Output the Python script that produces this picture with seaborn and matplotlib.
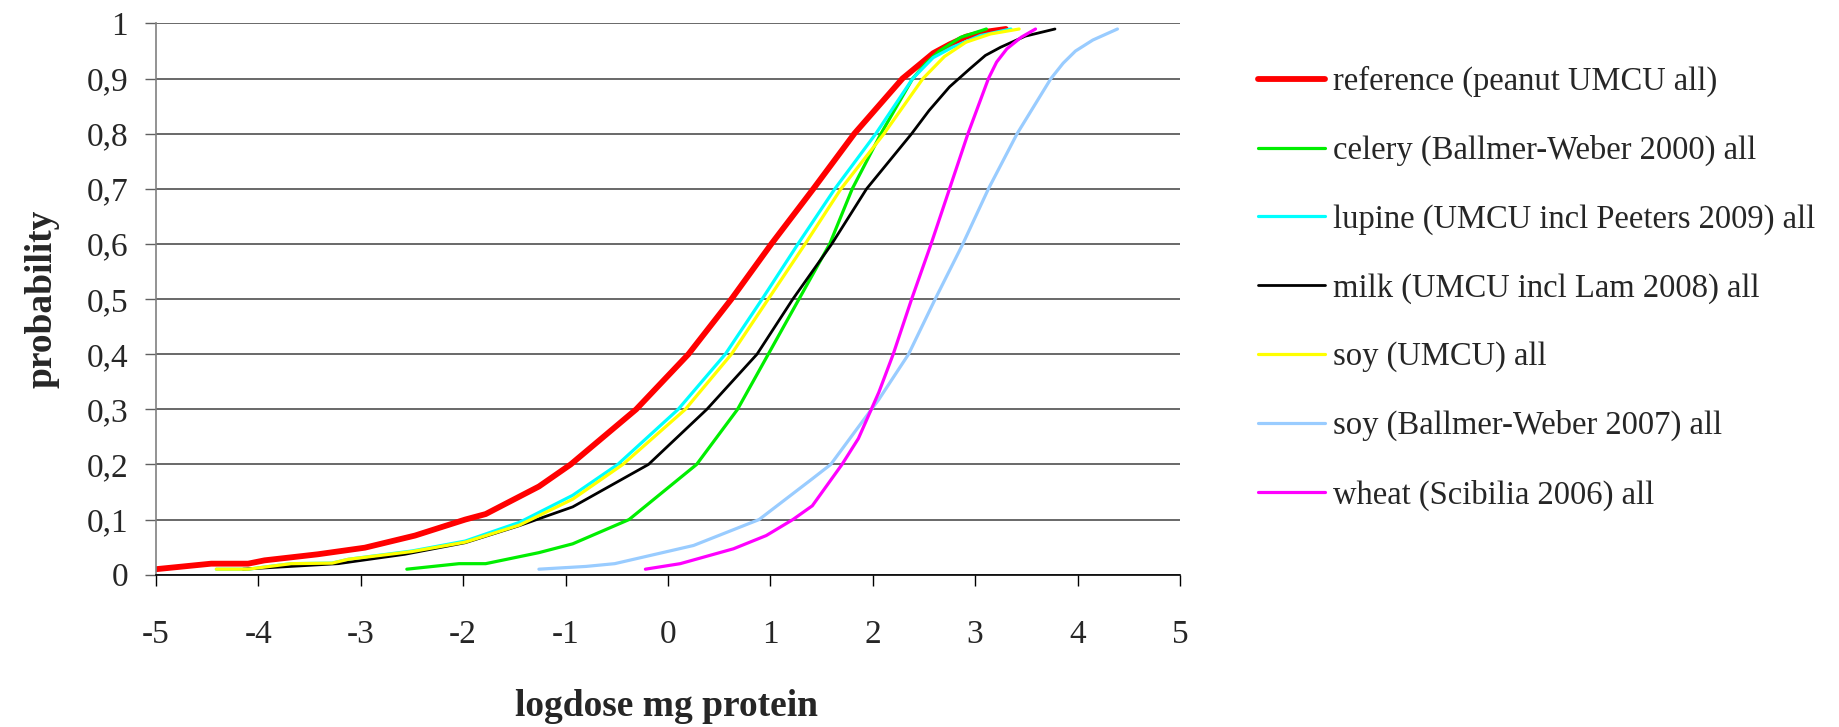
import numpy as np
import pandas as pd
import seaborn as sns
import matplotlib.pyplot as plt
from matplotlib.ticker import FuncFormatter

# Curves: logdose (x) against cumulative probability (y)
ref_x = [-5.0, -4.46, -4.1, -3.94, -3.42, -2.96, -2.47, -1.98, -1.78, -1.26, -0.95,
         -0.31, 0.2, 0.62, 1.01, 1.42, 1.82, 2.29, 2.46, 2.59, 2.75, 2.91, 3.11, 3.3]
ref_y = [0.01, 0.02, 0.02, 0.026, 0.037, 0.049, 0.071, 0.1, 0.11, 0.16, 0.2,
         0.3, 0.4, 0.5, 0.6, 0.7, 0.8, 0.9, 0.926, 0.946, 0.962, 0.976, 0.985, 0.99]

celery_x = [-2.55, -2.04, -1.78, -1.26, -0.93, -0.38, 0.28, 0.68, 0.98, 1.28,
            1.58, 1.8, 2.08, 2.39, 2.52, 2.65, 2.86, 3.11]
celery_y = [0.01, 0.02, 0.02, 0.04, 0.056, 0.1, 0.2, 0.3, 0.4, 0.5,
            0.6, 0.7, 0.8, 0.9, 0.928, 0.95, 0.975, 0.99]

lupine_x = [-4.41, -4.1, -3.68, -3.28, -3.12, -2.5, -1.98, -1.45, -0.93, -0.49,
            0.1, 0.56, 0.92, 1.27, 1.63, 2.03, 2.39, 2.59, 2.78, 3.05, 3.35]
lupine_y = [0.01, 0.01, 0.02, 0.021, 0.028, 0.043, 0.061, 0.095, 0.144, 0.2,
            0.3, 0.4, 0.5, 0.6, 0.7, 0.8, 0.9, 0.938, 0.957, 0.978, 0.99]

milk_x = [-4.15, -3.22, -2.57, -1.98, -1.45, -0.93, -0.19, 0.38, 0.87, 1.22,
          1.6, 1.94, 2.38, 2.55, 2.75, 2.95, 3.1, 3.25, 3.49, 3.78]
milk_y = [0.01, 0.02, 0.037, 0.058, 0.089, 0.123, 0.2, 0.3, 0.4, 0.5,
          0.6, 0.7, 0.8, 0.842, 0.885, 0.918, 0.942, 0.957, 0.977, 0.99]

soy_x = [-4.41, -4.1, -3.68, -3.28, -3.12, -2.5, -1.98, -1.45, -0.93, -0.44,
         0.17, 0.62, 0.98, 1.34, 1.69, 2.11, 2.49, 2.7, 2.91, 3.15, 3.43]
soy_y = [0.01, 0.01, 0.02, 0.021, 0.028, 0.042, 0.059, 0.09, 0.137, 0.2,
         0.3, 0.4, 0.5, 0.6, 0.7, 0.8, 0.9, 0.94, 0.966, 0.981, 0.99]

soybw_x = [-1.26, -0.8, -0.52, 0.25, 0.89, 1.41, 1.59, 1.86, 2.06, 2.35, 2.61,
           2.88, 3.13, 3.41, 3.74, 3.86, 3.98, 4.15, 4.39]
soybw_y = [0.01, 0.015, 0.02, 0.053, 0.1, 0.174, 0.2, 0.268, 0.318, 0.4, 0.5,
           0.6, 0.7, 0.8, 0.9, 0.928, 0.95, 0.97, 0.99]

wheat_x = [-0.22, 0.12, 0.64, 0.96, 1.22, 1.41, 1.7, 1.86, 2.06, 2.2, 2.38,
           2.57, 2.75, 2.93, 3.13, 3.21, 3.31, 3.45, 3.59]
wheat_y = [0.01, 0.02, 0.047, 0.071, 0.1, 0.125, 0.2, 0.247, 0.331, 0.4, 0.5,
           0.6, 0.7, 0.8, 0.9, 0.93, 0.954, 0.975, 0.99]

labels = ['reference (peanut UMCU all)',
          'celery (Ballmer-Weber 2000) all',
          'lupine (UMCU incl Peeters 2009) all',
          'milk (UMCU incl Lam 2008) all',
          'soy (UMCU) all',
          'soy (Ballmer-Weber 2007) all',
          'wheat (Scibilia 2006) all']
colors = ['#ff0000', '#00ee00', '#00ffff', '#000000', '#ffff00', '#99ccff', '#ff00ff']
widths = [4.2, 2.3, 2.3, 2.0, 2.3, 2.3, 2.3]
xs = [ref_x, celery_x, lupine_x, milk_x, soy_x, soybw_x, wheat_x]
ys = [ref_y, celery_y, lupine_y, milk_y, soy_y, soybw_y, wheat_y]

sns.set_theme(style='white')
plt.rcParams['font.family'] = ['Liberation Serif', 'DejaVu Serif']
plt.rcParams['axes.unicode_minus'] = False

fig = plt.figure(figsize=(18.39, 7.27), dpi=100)
ax = fig.add_axes([0.0848, 0.2095, 0.5568, 0.7582])

for lab, x, y, c, lw in zip(labels, xs, ys, colors, widths):
    df = pd.DataFrame({'logdose': x, 'probability': y})
    sns.lineplot(data=df, x='logdose', y='probability', ax=ax, color=c,
                 linewidth=lw, label=lab, sort=False, estimator=None)

ax.set_xlim(-5, 5)
ax.set_ylim(0, 1)
ax.set_xticks(np.arange(-5, 6, 1))
ax.set_yticks(np.arange(0, 1.01, 0.1))
ax.xaxis.set_major_formatter(FuncFormatter(lambda v, p: '%d' % round(v)))
ax.yaxis.set_major_formatter(FuncFormatter(lambda v, p: ('%g' % round(v, 1)).replace('.', ',')))

ax.grid(axis='y', color='#404040', linewidth=1.1)
ax.grid(axis='x', visible=False)
ax.set_axisbelow(True)
for s in ['top', 'right']:
    ax.spines[s].set_visible(False)
ax.spines['left'].set_color('#808080')
ax.spines['left'].set_linewidth(1.2)
ax.spines['bottom'].set_color('#000000')
ax.spines['bottom'].set_linewidth(1.2)

ax.tick_params(axis='y', direction='out', length=8, width=1, color='#606060',
               pad=12, labelsize=24, left=True)
ax.tick_params(axis='x', direction='out', length=8, width=1, color='#000000',
               pad=24, labelsize=24, bottom=True)

ax.set_xlabel('logdose mg protein', fontsize=27, fontweight='bold')
ax.set_ylabel('probability', fontsize=27, fontweight='bold')
ax.xaxis.label.set_va('center')
ax.xaxis.set_label_coords(0.499, -0.24)
ax.yaxis.label.set_va('center')
ax.yaxis.set_label_coords(-0.111, 0.5)

ax.legend(loc='upper left', bbox_to_anchor=(1258 / 1839, 1 - 66 / 727),
          bbox_transform=fig.transFigure, frameon=False, fontsize=23.5,
          handlelength=2.05, handletextpad=0.25, labelspacing=1.16,
          borderpad=0, borderaxespad=0)

fig.savefig('out.png', dpi=100)
